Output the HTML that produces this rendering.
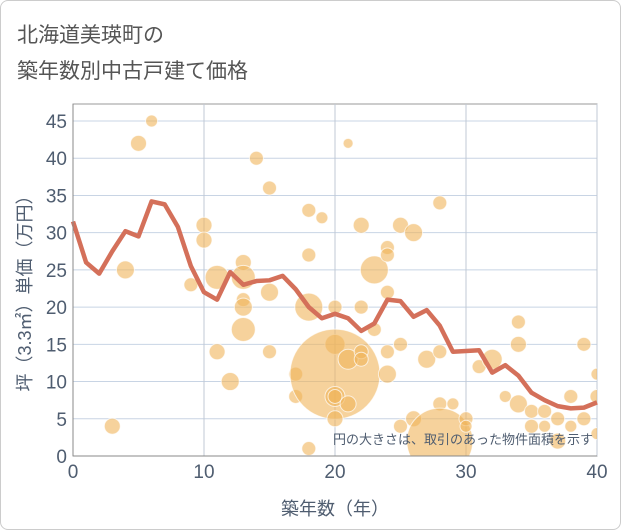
<!DOCTYPE html>
<html><head><meta charset="utf-8"><style>
body{margin:0;background:#fff;font-family:"Liberation Sans","Noto Sans CJK JP",sans-serif}
#wrap{position:relative;width:619px;height:528px;border:1px solid #ccc;border-radius:8px;overflow:hidden}
.t{position:absolute;left:16px;font-size:21px;color:#555}
</style></head><body>
<div id="wrap">
<div class="t" style="top:18px">北海道美瑛町の</div>
<div class="t" style="top:54px">築年数別中古戸建て価格</div>
<svg id="c" width="621" height="530" style="position:absolute;left:0;top:0"></svg>
</div>
<script>
const xTicks=[0,10,20,30,40];
const yTicks=[0,5,10,15,20,25,30,35,40,45];
const lineYears=[0,1,2,3,4,5,6,7,8,9,10,11,12,13,14,15,16,17,18,19,20,21,22,23,24,25,26,27,28,29,30,31,32,33,34,35,36,37,38,39,40];
const lineValues=[31.5,26,24.5,27.5,30.2,29.5,34.2,33.8,30.8,25.5,22,21,24.7,23,23.5,23.6,24.2,22.4,20,18.5,19.1,18.5,16.8,17.8,21,20.8,18.7,19.6,17.5,14,14.1,14.2,11.2,12.2,10.8,8.5,7.5,6.7,6.4,6.5,7.2];
const bubX=[3,4,5,6,9,10,10,11,11,12,13,13,13,13,13,14,15,15,15,17,17,18,18,18,18,19,20,20,20,20,20,20,21,21,21,22,22,22,22,23,23,24,24,24,24,24,25,25,25,26,26,27,28,28,28,28,29,30,30,31,32,33,34,34,34,35,35,36,36,37,37,38,38,39,39,40,40,40];
const bubY=[4,25,42,45,23,31,29,24,14,10,26,24,21,20,17,40,36,22,14,11,8,33,27,20,1,32,20,15,11,8,8,5,42,13,7,31,20,14,13,25,17,28,27,22,14,11,31,15,4,30,5,13,34,14,7,2,7,5,4,12,13,8,7,18,15,6,4,6,4,2,5,8,4,15,5,11,8,3];
const bubR=[8,9,8,6,7,8,8,12,8,9,8,12,7,9,12,7,7,9,7,7,7,7,7,14,7,6,7,10,45,10,7,8,5,10,8,8,7,7,7,14,7,7,7,7,7,9,8,7,7,9,8,9,7,7,7,33,6,7,6,7,10,6,9,7,8,7,7,7,6,8,7,7,6,7,7,6,7,6];
const svg=document.getElementById('c'),NS='http://www.w3.org/2000/svg';
const L=72,R=596,T=103,B=455;
const X=v=>L+(v-0)/(40)*(R-L), Y=v=>B-v/45*(455-120);
function mk(t,a,p){const e=document.createElementNS(NS,t);for(const k in a)e.setAttribute(k,a[k]);(p||svg).appendChild(e);return e;}
const bg=mk('rect',{x:L,y:T,width:R-L,height:B-T,fill:'#fff',stroke:'#999'});


yTicks.forEach(v=>{
 const g=mk('line',{x1:L,x2:R,y1:Y(v),y2:Y(v),stroke:'#c8d4e4','stroke-width':1});
 
 
 const t=mk('text',{x:L-6,y:Y(v)+7,'text-anchor':'end','font-size':19,fill:'#4f5d70'});t.textContent=v;
 
 
});
xTicks.forEach(v=>{
 const g=mk('line',{x1:X(v),x2:X(v),y1:T,y2:B,stroke:'#c0c8d4','stroke-width':1});
 
 
 const t=mk('text',{x:X(v),y:B+22,'text-anchor':'middle','font-size':19,fill:'#4f5d70'});t.textContent=v;
 
 
});
const clip=mk('clipPath',{id:'cp'});mk('rect',{x:L,y:T,width:R-L,height:B-T},clip);
const bg2=mk('g',{'clip-path':'url(#cp)'});


bubX.forEach((x,i)=>{
 const c=mk('circle',{cx:X(x),cy:Y(bubY[i]),r:bubR[i],fill:'rgba(240,180,90,0.6)',stroke:'rgba(255,255,255,0.7)','stroke-width':1},bg2);
 
 
});
const ln=mk('polyline',{points:lineYears.map((x,i)=>X(x)+','+Y(lineValues[i])).join(' '),fill:'none',stroke:'#d4705a','stroke-width':4.5,'stroke-linejoin':'round'});


mk('line',{x1:L,x2:L,y1:T,y2:B,stroke:'#888'});mk('line',{x1:L,x2:R,y1:B,y2:B,stroke:'#888'});
const note=mk('text',{x:592,y:443,'text-anchor':'end','font-size':13,fill:'#4f5d70'});note.textContent='円の大きさは、取引のあった物件面積を示す';


const xl=mk('text',{x:334,y:514,'text-anchor':'middle','font-size':18,fill:'#4f5d70'});xl.textContent='築年数（年）';


const yl=mk('text',{x:0,y:0,'text-anchor':'middle','font-size':18,fill:'#4f5d70',transform:'translate(30,288) rotate(-90)'});yl.textContent='坪（3.3㎡）単価（万円）';


</script>
</body></html>
